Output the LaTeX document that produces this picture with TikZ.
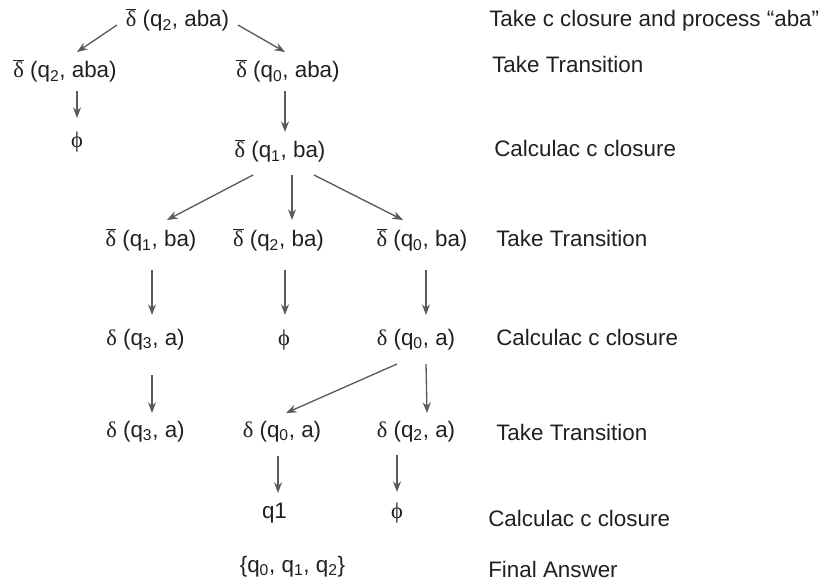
\documentclass[tikz,border=0pt]{standalone}
\usepackage{fontspec}
\setmainfont{Liberation Sans}
\newfontfamily\grk{Liberation Serif}
\usepackage{tikz}
\usetikzlibrary{arrows.meta, calc}
\definecolor{ink}{HTML}{231F20}
\definecolor{arrowgray}{HTML}{5A5A5A}
\newcommand{\dl}{{\grk δ}}
\newcommand{\dlbar}{$\overline{\hbox{\grk δ}}$}
\newcommand{\ph}{{\grk ϕ}}
\newcommand{\qs}[1]{q\textsubscript{#1}}

\begin{document}
\begin{tikzpicture}[x=0.75pt, y=-0.75pt,
    lbl/.style={font=\fontsize{16.8}{20}\selectfont, text=ink, inner sep=0pt, anchor=base},
    note/.style={lbl, anchor=base west},
    link/.style={draw=arrowgray, line width=1pt, -{Stealth[length=8pt, width=6pt]}}]
  \useasboundingbox (0,0) rectangle (821,581);
  % tree
  \node[lbl] (root) at (177.5,27) {\dlbar\ (\qs{2}, aba)};
  \node[lbl] (l1) at (65,78) {\dlbar\ (\qs{2}, aba)};
  \node[lbl] (r1) at (288,78) {\dlbar\ (\qs{0}, aba)};
  \node[lbl] (lphi) at (77,148) {\ph};
  \node[lbl] (c1) at (280,158) {\dlbar\ (\qs{1}, ba)};
  \node[lbl] (b1) at (151,247) {\dlbar\ (\qs{1}, ba)};
  \node[lbl] (b2) at (278.5,247) {\dlbar\ (\qs{2}, ba)};
  \node[lbl] (b3) at (422,247) {\dlbar\ (\qs{0}, ba)};
  \node[lbl] (d1) at (145.5,345) {\dl\ (\qs{3}, a)};
  \node[lbl] (d2) at (284,345) {\ph};
  \node[lbl] (d3) at (416,345) {\dl\ (\qs{0}, a)};
  \node[lbl] (e1) at (145.5,437) {\dl\ (\qs{3}, a)};
  \node[lbl] (e2) at (282,437) {\dl\ (\qs{0}, a)};
  \node[lbl] (e3) at (416,437) {\dl\ (\qs{2}, a)};
  \node[lbl] (f2) at (274.5,518) {q1};
  \node[lbl] (f3) at (397,518) {\ph};
  \node[lbl] (ans) at (292.5,572) {\{\qs{0}, \qs{1}, \qs{2}\}};
  % steps
  \node[note] (s1) at (489,27) {Take c closure and process “aba”};
  \node[note] (s2) at (492,73) {Take Transition};
  \node[note] (s3) at (494,157) {Calculac c closure};
  \node[note] (s4) at (496,247) {Take Transition};
  \node[note] (s5) at (496,345) {Calculac c closure};
  \node[note] (s6) at (496,440) {Take Transition};
  \node[note] (s7) at (488,526) {Calculac c closure};
  \node[note] (s8) at (488,577) {Final Answer};
  % arrows
  \draw[link] ($(root.base)+(-60.5,-2)$) -- ($(l1.base)+(12,-26)$);
  \draw[link] ($(root.base)+(60.5,-2)$) -- ($(r1.base)+(-3,-26)$);
  \draw[link] ($(l1.base)+(12,13)$) -- ($(lphi.base)+(0,-30)$);
  \draw[link] ($(r1.base)+(-3,13)$) -- ($(c1.base)+(5,-26)$);
  \draw[link] ($(c1.base)+(-27,17)$) -- ($(b1.base)+(16,-27)$);
  \draw[link] ($(c1.base)+(12,17)$) -- ($(b2.base)+(13.5,-27)$);
  \draw[link] ($(c1.base)+(34,17)$) -- ($(b3.base)+(-19,-27)$);
  \draw[link] ($(b1.base)+(1,23)$) -- ($(d1.base)+(6.5,-30)$);
  \draw[link] ($(b2.base)+(6.5,23)$) -- ($(d2.base)+(1,-30)$);
  \draw[link] ($(b3.base)+(4,23)$) -- ($(d3.base)+(10,-30)$);
  \draw[link] ($(d1.base)+(6.5,30)$) -- ($(e1.base)+(6.5,-24)$);
  \draw[link] ($(d3.base)+(-19,19)$) -- ($(e2.base)+(4,-24)$);
  \draw[link] ($(d3.base)+(10,19)$) -- ($(e3.base)+(11,-24)$);
  \draw[link] ($(e2.base)+(-4,19)$) -- ($(f2.base)+(3.5,-25)$);
  \draw[link] ($(e3.base)+(-19,18)$) -- ($(f3.base)+(0,-26)$);
\end{tikzpicture}
\end{document}
